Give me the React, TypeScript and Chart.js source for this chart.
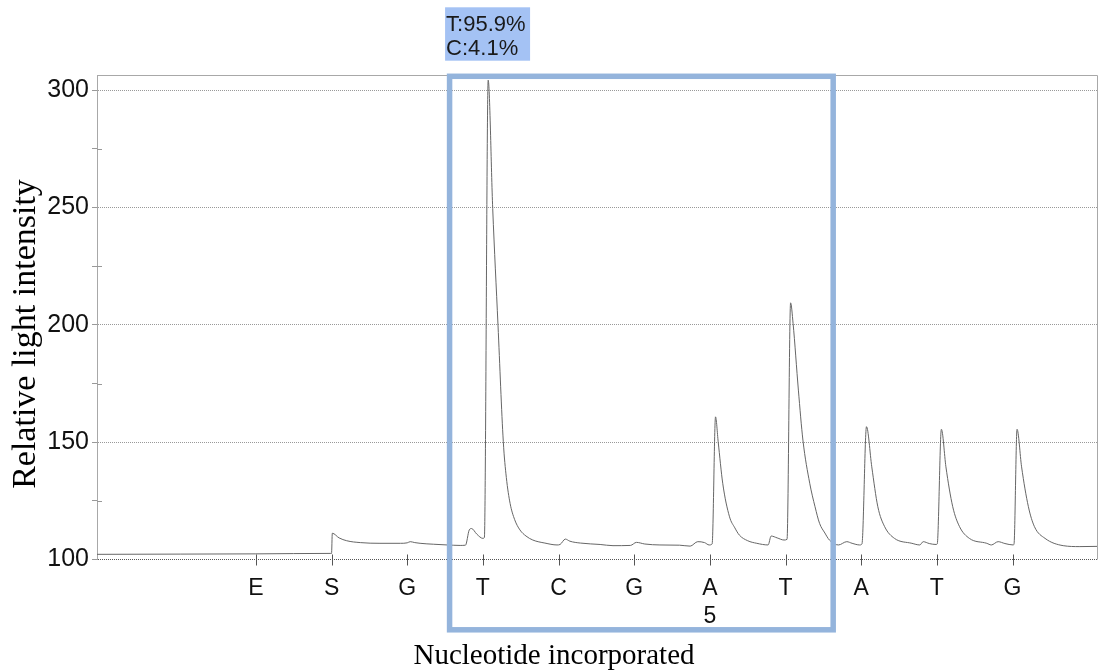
import React, { useEffect, useRef } from 'react';
import { Chart, registerables } from 'chart.js';

Chart.register(...registerables);

// ---- Data ----
const NUCLEOTIDES = ['E', 'S', 'G', 'T', 'C', 'G', 'A', 'T', 'A', 'T', 'G'];
const NUCLEOTIDE_POS = [1, 2, 3, 4, 5, 6, 7, 8, 9, 10, 11];
const SEQ_NUMBERS = ['', '', '', '', '', '', '5', '', '', '', ''];
const Y_TICKS = [100, 125, 150, 175, 200, 225, 250, 275, 300];
const Y_LABELED = [100, 150, 200, 250, 300];
const ANNOTATION_LINES = ['T:95.9%', 'C:4.1%'];
const HIGHLIGHT_RANGE = [3.56, 8.63];
const X_TITLE = 'Nucleotide incorporated';
const Y_TITLE = 'Relative light intensity';

const TRACE_X = [
  -1.1, 0.0, 1.0, 1.99, 2.0, 2.01, 2.1, 2.2, 2.38, 2.64, 2.91, 3.0, 3.04, 3.1, 3.17, 3.35, 3.53, 3.7,
  3.77, 3.82, 3.85, 3.92, 4.0, 4.02, 4.07, 4.13, 4.2, 4.27, 4.31, 4.36, 4.42, 4.49, 4.57, 4.66, 4.82,
  4.98, 5.02, 5.09, 5.15, 5.29, 5.55, 5.72, 5.95, 6.03, 6.14, 6.34, 6.6, 6.74, 6.84, 6.93, 6.99, 7.03,
  7.075, 7.11, 7.17, 7.26, 7.33, 7.39, 7.5, 7.62, 7.77, 7.81, 7.89, 7.98, 8.02, 8.067, 8.1, 8.17, 8.23,
  8.32, 8.39, 8.45, 8.52, 8.58, 8.7, 8.81, 8.88, 8.98, 9.01, 9.07, 9.14, 9.22, 9.31, 9.44, 9.67, 9.775,
  9.82, 9.9, 9.99, 10.005, 10.06, 10.12, 10.21, 10.3, 10.43, 10.66, 10.72, 10.81, 10.9, 11.01, 11.02,
  11.06, 11.12, 11.21, 11.29, 11.43, 11.67, 11.89, 12.13,
];
const TRACE_Y = [
  102.2, 102.3, 102.4, 102.6, 102.6, 111.2, 109.2, 108.0, 107.2, 106.9, 106.9, 107.1, 107.6, 107.2, 106.9, 106.5, 106.2, 106.0,
  106.1, 112.6, 113.2, 110.8, 109.0, 109.4, 304.3, 249.6, 199.9, 150.2, 135.0, 123.9, 117.0, 112.6, 110.0, 108.3, 107.0,
  106.2, 106.4, 108.7, 107.8, 107.0, 106.4, 105.9, 106.0, 107.3, 106.6, 106.2, 106.1, 105.7, 107.6, 107.2, 106.2, 106.6,
  160.8, 150.2, 132.5, 118.2, 113.5, 110.4, 108.0, 106.9, 106.2, 110.0, 109.2, 108.3, 108.6, 209.4, 200.6, 172.2, 150.9,
  132.5, 122.5, 115.4, 111.3, 108.3, 106.2, 107.6, 106.9, 106.2, 106.6, 156.6, 139.5, 122.5, 114.0, 109.0, 106.9, 106.2,
  107.6, 106.8, 106.4, 106.6, 155.5, 139.5, 122.5, 114.0, 109.0, 106.9, 106.2, 107.6, 106.8, 106.2, 106.6,
  155.5, 139.5, 122.5, 114.0, 109.0, 105.9, 105.5, 105.6,
];

const SANS = '"Liberation Sans", Arial, sans-serif';
const SERIF = '"Liberation Serif", "Times New Roman", serif';

const decorPlugin = {
  id: 'decor',
  afterDraw(chart: any) {
    const { ctx, chartArea: a, scales } = chart;
    const xs = scales.x;
    const ys = scales.y;
    ctx.save();
    // frame: top and right
    ctx.strokeStyle = '#a8a8a8';
    ctx.lineWidth = 1;
    ctx.setLineDash([]);
    ctx.beginPath();
    ctx.moveTo(a.left, Math.round(a.top) + 0.5);
    ctx.lineTo(Math.round(a.right) - 0.5, Math.round(a.top) + 0.5);
    ctx.lineTo(Math.round(a.right) - 0.5, a.bottom);
    ctx.stroke();
    // minor y ticks inner part
    ctx.strokeStyle = '#999';
    Y_TICKS.filter((v) => !Y_LABELED.includes(v)).forEach((v) => {
      const y = Math.round(ys.getPixelForValue(v)) + 0.5;
      ctx.beginPath();
      ctx.moveTo(a.left, y);
      ctx.lineTo(a.left + 5, y);
      ctx.stroke();
    });
    // x tick marks crossing axis
    ctx.strokeStyle = '#555';
    NUCLEOTIDE_POS.forEach((p) => {
      const x = Math.round(xs.getPixelForValue(p)) + 0.5;
      ctx.beginPath();
      ctx.moveTo(x, a.bottom - 5);
      ctx.lineTo(x, a.bottom + 6);
      ctx.stroke();
    });
    // highlight box
    const x0 = xs.getPixelForValue(HIGHLIGHT_RANGE[0]);
    const x1 = xs.getPixelForValue(HIGHLIGHT_RANGE[1]);
    ctx.strokeStyle = '#94B4DC';
    ctx.lineWidth = 5.5;
    ctx.strokeRect(x0, a.top + 1.3, x1 - x0, 553.5);
    // annotation label
    ctx.fillStyle = '#A4C2F4';
    ctx.fillRect(x0 - 4.5, 7.3, 85, 53.4);
    ctx.fillStyle = '#1a1a1a';
    ctx.font = `22px ${SANS}`;
    ctx.textAlign = 'left';
    ctx.textBaseline = 'alphabetic';
    ctx.fillText(ANNOTATION_LINES[0], x0 - 3.5, 31);
    ctx.fillText(ANNOTATION_LINES[1], x0 - 3.5, 55);
    // titles
    ctx.fillStyle = '#000';
    ctx.textAlign = 'center';
    ctx.font = `29px ${SERIF}`;
    ctx.fillText(X_TITLE, 554, 664.3);
    ctx.save();
    ctx.translate(35, 334);
    ctx.rotate(-Math.PI / 2);
    ctx.font = `34px ${SERIF}`;
    ctx.fillText(Y_TITLE, 0, 0);
    ctx.restore();
    ctx.restore();
  },
};

export default function App() {
  const canvasRef = useRef<HTMLCanvasElement | null>(null);

  useEffect(() => {
    document.body.style.margin = '0';
    document.body.style.overflow = 'hidden';
    const canvas = canvasRef.current;
    if (!canvas) return;
    const data = TRACE_X.map((x, i) => ({ x, y: TRACE_Y[i] }));
    const chart = new Chart(canvas, {
      type: 'line',
      data: {
        datasets: [
          {
            data,
            borderColor: '#666',
            borderWidth: 1,
            pointRadius: 0,
            cubicInterpolationMode: 'monotone',
            fill: false,
          },
        ],
      },
      options: {
        animation: false,
        responsive: false,
        maintainAspectRatio: false,
        layout: { padding: { top: 75, right: 2, left: 0, bottom: 0 } },
        plugins: { legend: { display: false }, tooltip: { enabled: false } },
        scales: {
          x: {
            type: 'linear',
            min: -1.1,
            max: 12.13,
            afterBuildTicks: (s: any) => {
              s.ticks = NUCLEOTIDE_POS.map((v) => ({ value: v }));
            },
            afterFit: (s: any) => {
              s.height = 111.5;
            },
            ticks: {
              autoSkip: false,
              maxRotation: 0,
              minRotation: 0,
              padding: 15.5,
              color: '#111',
              font: { family: SANS, size: 23, lineHeight: 1.22 },
              callback: (v: any) => {
                const i = NUCLEOTIDE_POS.indexOf(Number(v));
                if (i < 0) return '';
                return SEQ_NUMBERS[i] ? [NUCLEOTIDES[i], SEQ_NUMBERS[i]] : NUCLEOTIDES[i];
              },
            },
            grid: { display: false, drawTicks: false },
            border: { display: false },
          },
          y: {
            type: 'linear',
            min: 100,
            max: 306.5,
            afterBuildTicks: (s: any) => {
              s.ticks = Y_TICKS.map((v) => ({ value: v }));
            },
            afterFit: (s: any) => {
              s.width = 97;
            },
            ticks: {
              padding: 3,
              color: '#111',
              font: { family: SANS, size: 25 },
              callback: (v: any) => (Y_LABELED.includes(Number(v)) ? String(v) : ''),
            },
            grid: {
              color: (c: any) => {
                const v = c.tick ? c.tick.value : 0;
                if (v === 100) return '#555';
                return v % 50 === 0 ? '#999' : 'rgba(0,0,0,0)';
              },
              tickColor: '#999',
              tickLength: 5,
              tickBorderDash: [],
              lineWidth: 1,
            },
            border: { display: true, color: '#a8a8a8', width: 1, dash: [1, 1] },
          },
        },
      },
      plugins: [decorPlugin],
    });
    return () => chart.destroy();
  }, []);

  return (
    <div style={{ width: 1100, height: 671, position: 'relative', background: '#fff' }}>
      <canvas ref={canvasRef} width={1100} height={671} style={{ display: 'block', width: 1100, height: 671 }} />
    </div>
  );
}
